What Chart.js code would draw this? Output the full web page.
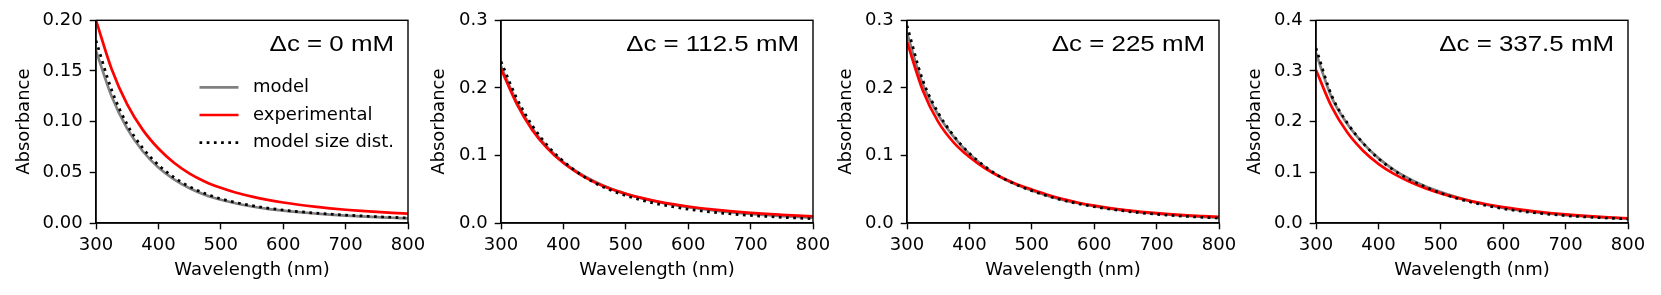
<!DOCTYPE html>
<html><head><meta charset="utf-8">
<script src="https://cdn.jsdelivr.net/npm/chart.js@4.4.1/dist/chart.umd.min.js"></script>
<style>
html,body{margin:0;padding:0;background:#fff;}
#wrap{position:relative;width:1661px;height:295px;overflow:hidden;background:#fff;}
canvas{position:absolute;top:0;}
</style></head><body><div id="wrap"></div>
<script>
// ---------------- data ----------------
const wavelengths = [300, 325, 350, 375, 400, 425, 450, 475, 500, 525, 550, 575, 600, 625, 650, 675, 700, 725, 750, 775, 800];
const seriesNames = ['model', 'experimental', 'model size dist.'];
const panelLabels = ['Δc = 0 mM', 'Δc = 112.5 mM', 'Δc = 225 mM', 'Δc = 337.5 mM'];

const model0        = [0.170, 0.1250, 0.0931, 0.0708, 0.0548, 0.0431, 0.0343, 0.0277, 0.0229, 0.0192, 0.0163, 0.0140, 0.0122, 0.0107, 0.0094, 0.0083, 0.0073, 0.0065, 0.0058, 0.0052, 0.0046];
const experimental0 = [0.200, 0.152, 0.117, 0.0919, 0.0735, 0.0595, 0.0488, 0.0408, 0.0347, 0.0298, 0.0260, 0.0228, 0.0202, 0.0180, 0.0161, 0.0145, 0.0131, 0.0119, 0.0109, 0.0100, 0.0093];
const sizeDist0     = [0.180, 0.1314, 0.0972, 0.0739, 0.0573, 0.0450, 0.0358, 0.0290, 0.0239, 0.0201, 0.0171, 0.0147, 0.0128, 0.0112, 0.0099, 0.0088, 0.0078, 0.0070, 0.0062, 0.0056, 0.0050];

const model1        = [0.232, 0.1798, 0.1402, 0.1115, 0.0903, 0.0741, 0.0615, 0.0513, 0.0434, 0.0369, 0.0315, 0.0271, 0.0234, 0.0204, 0.0177, 0.0154, 0.0134, 0.0118, 0.0103, 0.0091, 0.0080];
const experimental1 = [0.228, 0.1767, 0.1378, 0.1096, 0.0887, 0.0728, 0.0604, 0.0507, 0.0431, 0.0371, 0.0321, 0.0279, 0.0244, 0.0215, 0.0190, 0.0169, 0.0150, 0.0134, 0.0121, 0.0109, 0.0098];
const sizeDist1     = [0.239, 0.1852, 0.1445, 0.1141, 0.0913, 0.0735, 0.0596, 0.0488, 0.0405, 0.0338, 0.0284, 0.0240, 0.0204, 0.0174, 0.0150, 0.0129, 0.0112, 0.0097, 0.0084, 0.0073, 0.0063];

const model2        = [0.281, 0.206, 0.160, 0.1275, 0.102, 0.0828, 0.0678, 0.0568, 0.0480, 0.0405, 0.0343, 0.0292, 0.0249, 0.0213, 0.0183, 0.0158, 0.0137, 0.0119, 0.0104, 0.0091, 0.0080];
const experimental2 = [0.268, 0.197, 0.1497, 0.119, 0.0976, 0.081, 0.0680, 0.0578, 0.0495, 0.0418, 0.0353, 0.0300, 0.0257, 0.0221, 0.0191, 0.0166, 0.0145, 0.0128, 0.0113, 0.0101, 0.0090];
const sizeDist2     = [0.292, 0.2120, 0.1632, 0.1290, 0.1032, 0.0836, 0.0681, 0.0569, 0.0478, 0.0401, 0.0337, 0.0285, 0.0241, 0.0205, 0.0175, 0.0150, 0.0129, 0.0111, 0.0096, 0.0083, 0.0072];

const model3        = [0.335, 0.248, 0.196, 0.158, 0.128, 0.105, 0.0870, 0.0725, 0.0610, 0.0510, 0.0425, 0.0355, 0.0298, 0.0252, 0.0214, 0.0182, 0.0156, 0.0134, 0.0115, 0.0100, 0.0087];
const experimental3 = [0.302, 0.2295, 0.179, 0.1432, 0.1167, 0.0969, 0.0814, 0.0688, 0.0585, 0.050, 0.0428, 0.0366, 0.0313, 0.0268, 0.0229, 0.0197, 0.0170, 0.0147, 0.0127, 0.0109, 0.0094];
const sizeDist3     = [0.345, 0.2519, 0.1977, 0.1582, 0.1273, 0.1038, 0.0856, 0.0715, 0.0590, 0.0490, 0.0407, 0.0339, 0.0283, 0.0239, 0.0202, 0.0172, 0.0146, 0.0125, 0.0107, 0.0092, 0.0079];

const xTicks = [300, 400, 500, 600, 700, 800];
const xTickLabels = ['300', '400', '500', '600', '700', '800'];
const yTicks0 = [0, 0.05, 0.10, 0.15, 0.20];
const yTickLabels0 = ['0.00', '0.05', '0.10', '0.15', '0.20'];
const yTicks1 = [0, 0.1, 0.2, 0.3];
const yTickLabels1 = ['0.0', '0.1', '0.2', '0.3'];
const yTicks2 = [0, 0.1, 0.2, 0.3];
const yTickLabels2 = ['0.0', '0.1', '0.2', '0.3'];
const yTicks3 = [0, 0.1, 0.2, 0.3, 0.4];
const yTickLabels3 = ['0.0', '0.1', '0.2', '0.3', '0.4'];

const xTitle = 'Wavelength (nm)';
const yTitle = 'Absorbance';

// ---------------- layout / style ----------------
const panels = [
  {model: model0, exp: experimental0, dist: sizeDist0, yT: yTicks0, yL: yTickLabels0, label: panelLabels[0], left: 0,    yTitlePad: 14, legend: true},
  {model: model1, exp: experimental1, dist: sizeDist1, yT: yTicks1, yL: yTickLabels1, label: panelLabels[1], left: 405,  yTitlePad: 24, legend: false},
  {model: model2, exp: experimental2, dist: sizeDist2, yT: yTicks2, yL: yTickLabels2, label: panelLabels[2], left: 811,  yTitlePad: 25, legend: false},
  {model: model3, exp: experimental3, dist: sizeDist3, yT: yTicks3, yL: yTickLabels3, label: panelLabels[3], left: 1220, yTitlePad: 25, legend: false},
];
const YW = 96, PW = 312, RP = 30, H = 295, TOP = 20.3, XH = 72;
const FONT = 'DejaVu Sans';
const LW = 2.7;

const framePlugin = {
  id: 'frame',
  afterDraw(chart) {
    const {ctx, chartArea: a} = chart;
    ctx.save();
    ctx.strokeStyle = '#000';
    ctx.lineWidth = 1.4;
    ctx.strokeRect(a.left, a.top, a.right - a.left, a.bottom - a.top);
    ctx.restore();
  }
};
const annotPlugin = {
  id: 'annot',
  afterDraw(chart, args, opts) {
    const {ctx, chartArea: a} = chart;
    ctx.save();
    ctx.fillStyle = '#000';
    ctx.font = '22.5px "Liberation Sans"';
    ctx.textAlign = 'right';
    ctx.textBaseline = 'alphabetic';
    ctx.translate(a.right - 14, a.top + 30.5);
    ctx.scale(1.15, 1);
    ctx.fillText(opts.text, 0, 0);
    ctx.restore();
  }
};
const legendPlugin = {
  id: 'mylegend',
  afterDraw(chart, args, opts) {
    if (!opts.show) return;
    const {ctx} = chart;
    const rows = [87.3, 115, 142.7];
    ctx.save();
    chart.data.datasets.forEach((ds, i) => {
      const y = rows[i];
      ctx.beginPath();
      ctx.strokeStyle = ds.borderColor;
      ctx.lineWidth = ds.borderWidth;
      ctx.lineCap = 'butt';
      ctx.setLineDash(ds.borderDash || []);
      ctx.moveTo(199.5, y);
      ctx.lineTo(238.5, y);
      ctx.stroke();
      ctx.setLineDash([]);
      ctx.fillStyle = '#000';
      ctx.font = '18px "' + FONT + '"';
      ctx.textAlign = 'left';
      ctx.textBaseline = 'middle';
      ctx.fillText(ds.label, 253, y);
    });
    ctx.restore();
  }
};

const wrap = document.getElementById('wrap');
panels.forEach((p) => {
  const cv = document.createElement('canvas');
  cv.width = YW + PW + RP; cv.height = H;
  cv.style.left = p.left + 'px';
  cv.style.width = cv.width + 'px'; cv.style.height = H + 'px';
  wrap.appendChild(cv);
  const pts = arr => wavelengths.map((w, i) => ({x: w, y: arr[i]}));
  new Chart(cv, {
    type: 'line',
    data: {
      datasets: [
        {label: seriesNames[0], data: pts(p.model), borderColor: '#808080', borderWidth: LW, order: 3},
        {label: seriesNames[1], data: pts(p.exp), borderColor: '#ff0000', borderWidth: LW, order: 2},
        {label: seriesNames[2], data: pts(p.dist), borderColor: '#000000', borderWidth: LW, borderDash: [2.7, 4.5], borderCapStyle: 'butt', order: 1},
      ]
    },
    options: {
      responsive: false, animation: false, devicePixelRatio: 1,
      layout: {padding: {top: TOP, right: RP, bottom: 0, left: 0}},
      elements: {point: {radius: 0}, line: {cubicInterpolationMode: 'monotone', fill: false}},
      plugins: {legend: {display: false}, tooltip: {enabled: false},
        annot: {text: p.label}, mylegend: {show: p.legend}},
      scales: {
        x: {
          type: 'linear', min: 300, max: 800,
          afterFit(s) { s.height = XH; },
          afterBuildTicks(s) { s.ticks = xTicks.map(v => ({value: v})); },
          ticks: {callback: (v) => xTickLabels[xTicks.indexOf(v)], color: '#000', font: {family: FONT, size: 18}, padding: 5, maxRotation: 0, autoSkip: false},
          grid: {drawOnChartArea: false, tickLength: 6.3, tickWidth: 1.4, color: '#000'},
          border: {display: true, color: '#000', width: 1.4},
          title: {display: true, text: xTitle, color: '#000', font: {family: FONT, size: 18}, padding: {top: 0, bottom: 14}}
        },
        y: {
          type: 'linear', min: p.yT[0], max: p.yT[p.yT.length - 1],
          afterFit(s) { s.width = YW; },
          afterBuildTicks(s) { s.ticks = p.yT.map(v => ({value: v})); },
          ticks: {callback: (v) => p.yL[p.yT.indexOf(v)], color: '#000', font: {family: FONT, size: 18}, padding: 7, autoSkip: false},
          grid: {drawOnChartArea: false, tickLength: 6.3, tickWidth: 1.4, color: '#000'},
          border: {display: true, color: '#000', width: 1.4},
          title: {display: true, text: yTitle, color: '#000', font: {family: FONT, size: 18}, padding: {top: p.yTitlePad, bottom: 0}}
        }
      }
    },
    plugins: [framePlugin, annotPlugin, legendPlugin]
  });
});
</script></body></html>
